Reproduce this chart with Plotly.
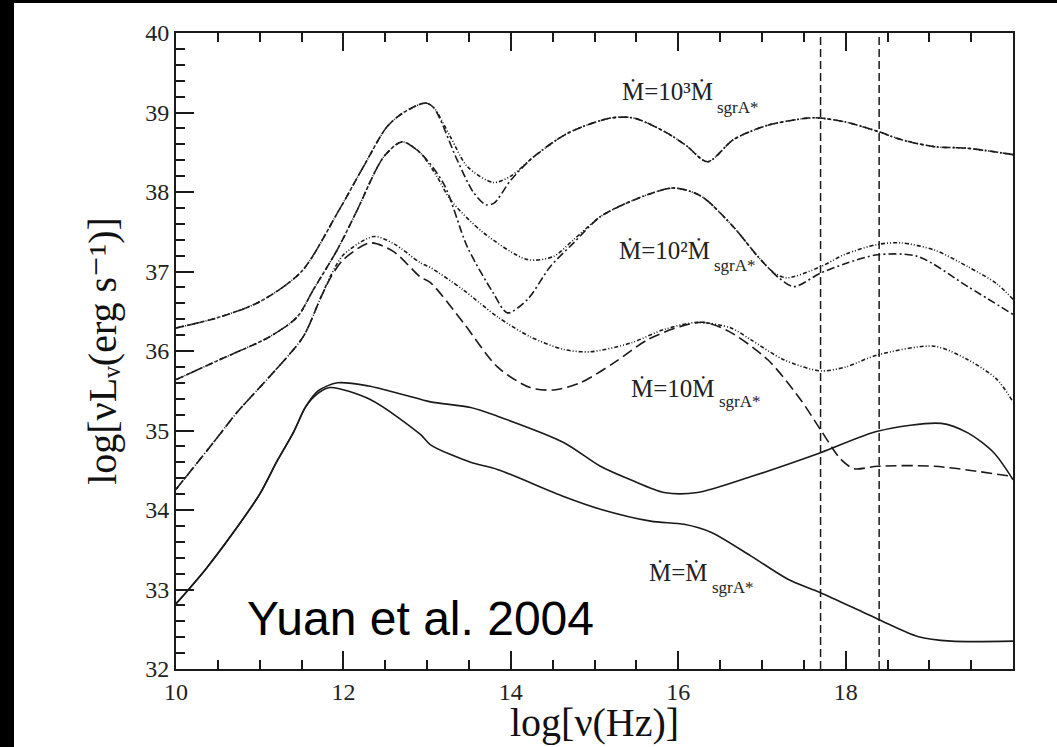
import plotly.graph_objects as go

# ---- data ----
# Mdot = 10^3 Mdot_sgrA*, dotted branch
x_1e3_a = [10.0, 10.5, 11.0, 11.5, 11.93, 12.24, 12.52, 12.72, 12.98, 13.08, 13.28, 13.48, 13.79, 14.0, 14.27, 14.68, 15.19, 15.47, 15.87, 16.1, 16.35, 16.66, 17.07, 17.55, 17.7, 18.0, 18.39, 18.66, 19.06, 19.46, 20.0]
y_1e3_a = [36.29, 36.42, 36.62, 37.0, 37.74, 38.32, 38.82, 39.0, 39.12, 39.06, 38.69, 38.32, 38.12, 38.2, 38.44, 38.74, 38.93, 38.93, 38.74, 38.58, 38.38, 38.66, 38.84, 38.93, 38.93, 38.88, 38.76, 38.66, 38.57, 38.55, 38.47]
# Mdot = 10^3 Mdot_sgrA*, dash-dot branch
x_1e3_b = [10.0, 10.5, 11.0, 11.5, 11.93, 12.24, 12.52, 12.72, 12.98, 13.08, 13.36, 13.55, 13.7, 13.8, 14.0, 14.27, 14.68, 15.19, 15.47, 15.87, 16.1, 16.35, 16.66, 17.07, 17.55, 17.7, 18.0, 18.39, 18.66, 19.06, 19.46, 20.0]
y_1e3_b = [36.29, 36.42, 36.62, 37.0, 37.74, 38.32, 38.82, 39.0, 39.12, 39.06, 38.4, 38.0, 37.84, 37.86, 38.15, 38.44, 38.74, 38.93, 38.93, 38.74, 38.58, 38.38, 38.66, 38.84, 38.93, 38.93, 38.88, 38.76, 38.66, 38.57, 38.55, 38.47]
# Mdot = 10^2 Mdot_sgrA*, dotted branch
x_1e2_a = [10.0, 10.5, 11.12, 11.45, 11.64, 11.93, 12.15, 12.48, 12.7, 12.92, 13.12, 13.28, 13.67, 14.2, 14.51, 14.75, 15.07, 15.47, 15.94, 16.27, 16.66, 16.95, 17.15, 17.3, 17.7, 18.0, 18.38, 18.66, 19.06, 19.46, 19.8, 20.0]
y_1e2_a = [35.64, 35.88, 36.18, 36.43, 36.77, 37.28, 37.74, 38.44, 38.63, 38.49, 38.19, 37.9, 37.49, 37.15, 37.19, 37.4, 37.69, 37.9, 38.05, 37.95, 37.56, 37.19, 36.98, 36.92, 37.06, 37.22, 37.34, 37.36, 37.27, 37.06, 36.85, 36.65]
# Mdot = 10^2 Mdot_sgrA*, dash-dot branch
x_1e2_b = [10.0, 10.5, 11.12, 11.45, 11.64, 11.93, 12.15, 12.48, 12.7, 12.92, 13.2, 13.48, 13.79, 13.96, 14.2, 14.47, 14.75, 15.07, 15.47, 15.94, 16.27, 16.66, 16.95, 17.19, 17.38, 17.7, 18.0, 18.38, 18.86, 19.46, 20.0]
y_1e2_b = [35.64, 35.88, 36.18, 36.43, 36.77, 37.28, 37.74, 38.44, 38.63, 38.49, 38.1, 37.31, 36.73, 36.48, 36.65, 37.06, 37.36, 37.69, 37.9, 38.05, 37.95, 37.56, 37.19, 36.93, 36.81, 36.98, 37.1, 37.21, 37.19, 36.81, 36.46]
# Mdot = 10 Mdot_sgrA*, dotted branch
x_1e1_a = [10.0, 10.5, 10.73, 11.12, 11.52, 11.72, 11.85, 12.0, 12.36, 12.6, 12.92, 13.04, 13.43, 13.84, 14.23, 14.63, 14.95, 15.43, 15.83, 16.23, 16.63, 16.87, 17.26, 17.7, 18.0, 18.38, 19.06, 19.46, 19.8, 20.0]
y_1e1_a = [34.26, 34.92, 35.23, 35.68, 36.18, 36.65, 36.95, 37.21, 37.44, 37.35, 37.11, 37.05, 36.77, 36.43, 36.18, 36.02, 35.99, 36.1, 36.27, 36.36, 36.29, 36.14, 35.89, 35.75, 35.8, 35.95, 36.06, 35.89, 35.65, 35.36]
# Mdot = 10 Mdot_sgrA*, dashed branch
x_1e1_b = [10.0, 10.5, 10.73, 11.12, 11.52, 11.72, 11.85, 12.0, 12.32, 12.6, 12.92, 13.04, 13.43, 13.84, 14.23, 14.51, 14.83, 15.23, 15.63, 16.03, 16.3, 16.6, 17.07, 17.46, 17.7, 17.94, 18.1, 18.38, 19.06, 20.0]
y_1e1_b = [34.26, 34.92, 35.23, 35.68, 36.18, 36.65, 36.93, 37.15, 37.36, 37.25, 36.93, 36.86, 36.36, 35.8, 35.54, 35.51, 35.6, 35.85, 36.14, 36.31, 36.36, 36.25, 35.89, 35.39, 35.01, 34.64, 34.52, 34.55, 34.55, 34.42]
# Mdot = Mdot_sgrA*, upper solid
x_1e0_a = [10.0, 10.35, 10.68, 11.0, 11.21, 11.4, 11.55, 11.7, 11.93, 12.3, 12.72, 13.04, 13.52, 13.84, 14.63, 15.07, 15.43, 15.83, 16.23, 16.87, 17.7, 18.38, 19.14, 19.46, 19.77, 20.0]
y_1e0_a = [32.82, 33.25, 33.71, 34.2, 34.62, 34.97, 35.3, 35.5, 35.6, 35.56, 35.45, 35.36, 35.29, 35.18, 34.85, 34.55, 34.38, 34.22, 34.22, 34.42, 34.72, 34.99, 35.09, 34.97, 34.72, 34.38]
# Mdot = Mdot_sgrA*, lower solid
x_1e0_b = [10.0, 10.35, 10.68, 11.0, 11.21, 11.4, 11.55, 11.7, 11.84, 12.32, 12.92, 13.04, 13.52, 13.84, 14.63, 15.07, 15.67, 16.07, 16.39, 16.87, 17.31, 17.7, 18.38, 18.86, 19.26, 20.0]
y_1e0_b = [32.82, 33.25, 33.71, 34.2, 34.62, 34.97, 35.3, 35.47, 35.54, 35.39, 34.95, 34.82, 34.6, 34.51, 34.17, 34.01, 33.86, 33.82, 33.72, 33.42, 33.13, 32.96, 32.63, 32.41, 32.35, 32.35]

vlines_x = [17.7, 18.4]

# curve labels: main part (right-aligned at the join) and subscript part (left-aligned at the join)
labels_main = ["Ṁ=10³Ṁ", "Ṁ=10²Ṁ", "Ṁ=10Ṁ", "Ṁ=Ṁ"]
labels_sub = ["sgrA*", "sgrA*", "sgrA*", "sgrA*"]
labels_join_x = [16.44, 16.40, 16.46, 16.38]
labels_main_y = [39.27, 37.27, 35.53, 33.21]
labels_sub_y = [39.06, 37.07, 35.36, 33.03]

X_RANGE = [10, 19.999]
Y_RANGE = [32, 40]

# ---- styles ----
INK = "#1a1a1a"
DOTTED = "4px,2px,1px,2px,1px,2px"
DASHDOT = "8px,3px,2px,3px"
DASHED = "11px,5px"
SERIF = "Liberation Serif, Times New Roman, DejaVu Serif, serif"

series = [
    (x_1e3_a, y_1e3_a, DOTTED), (x_1e3_b, y_1e3_b, DASHDOT),
    (x_1e2_a, y_1e2_a, DOTTED), (x_1e2_b, y_1e2_b, DASHDOT),
    (x_1e1_a, y_1e1_a, DOTTED), (x_1e1_b, y_1e1_b, DASHED),
    (x_1e0_a, y_1e0_a, "solid"), (x_1e0_b, y_1e0_b, "solid"),
]

fig = go.Figure()
for xs, ys, dash in series:
    fig.add_trace(go.Scatter(x=xs, y=ys, mode="lines",
                             line=dict(color=INK, width=1.6, dash=dash, shape="spline", smoothing=0.8),
                             showlegend=False))

for xv in vlines_x:
    fig.add_trace(go.Scatter(x=[xv, xv], y=Y_RANGE, mode="lines",
                             line=dict(color=INK, width=1.5, dash="8px,4px"),
                             showlegend=False))

# empty trace that registers an overlaid, trace-free subplot used only to carry the tick marks
fig.add_trace(go.Scatter(x=[], y=[], xaxis="x2", yaxis="y2", showlegend=False))

# figure sits at (14, 3) inside a black page, so the black frame strips show on the left and top
OFF_X, OFF_Y = 14, 3
W, H = 1057 - OFF_X, 747 - OFF_Y
L, R, T, B = 176 - OFF_X, 44, 33 - OFF_Y, 78
ph = H - T - B


def to_paper_x(v):
    return (v - X_RANGE[0]) / (X_RANGE[1] - X_RANGE[0])


def to_paper_y(v):
    return (v - Y_RANGE[0]) / (Y_RANGE[1] - Y_RANGE[0])


annotations = []
for tm, ts, xj, ym, ys in zip(labels_main, labels_sub, labels_join_x, labels_main_y, labels_sub_y):
    annotations.append(dict(x=to_paper_x(xj), y=to_paper_y(ym), xref="paper", yref="paper", text=tm,
                            showarrow=False, xanchor="right", yanchor="middle",
                            font=dict(family=SERIF, size=25, color="#222")))
    annotations.append(dict(x=to_paper_x(xj), y=to_paper_y(ys), xref="paper", yref="paper", text=ts,
                            showarrow=False, xanchor="left", yanchor="middle",
                            font=dict(family=SERIF, size=17, color="#222")))
annotations.append(dict(x=to_paper_x(10.82), y=to_paper_y(32.64), xref="paper", yref="paper",
                        text="Yuan et al. 2004", showarrow=False, xanchor="left", yanchor="middle",
                        font=dict(family="Liberation Sans, Arial, sans-serif", size=48, color="black")))
annotations.append(dict(x=0.5, y=(669 - 722) / ph, xref="paper", yref="paper", text="log[ν(Hz)]",
                        showarrow=False, xanchor="center", yanchor="middle",
                        font=dict(family=SERIF, size=40, color="#111")))

tick_common = dict(showgrid=False, zeroline=False, showline=True, linecolor=INK, linewidth=2,
                   ticks="inside", ticklen=18, tickwidth=2, tickcolor=INK)
label_font = dict(family=SERIF, size=24, color="#222")
x_minor = dict(ticks="inside", dtick=0.5, ticklen=9, tickwidth=1.5, tickcolor=INK)
y_minor = dict(ticks="inside", dtick=0.2, ticklen=9, tickwidth=1.5, tickcolor=INK)

fig.update_layout(
    width=W, height=H, margin=dict(l=L, r=R, t=T, b=B),
    paper_bgcolor="white", plot_bgcolor="white",
    xaxis=dict(range=X_RANGE, tick0=10, dtick=2, mirror="ticks", minor=x_minor,
               tickfont=label_font, **tick_common),
    yaxis=dict(range=Y_RANGE, tick0=32, dtick=1, mirror=True, minor=y_minor,
               tickfont=label_font,
               title=dict(text="log[νLᵥ(erg s⁻¹)]", standoff=16,
                          font=dict(family=SERIF, size=40, color="#111")),
               **tick_common),
    xaxis2=dict(range=X_RANGE, tick0=10, dtick=2, mirror="ticks", minor=x_minor,
                overlaying="x", anchor="y2", side="bottom", showticklabels=False, **tick_common),
    yaxis2=dict(range=Y_RANGE, tick0=32, dtick=1, mirror=True, minor=y_minor,
                overlaying="y", anchor="x2", side="left", showticklabels=False, **tick_common),
    annotations=annotations,
)

page_js = ("document.body.style.margin='0';document.body.style.overflow='hidden';"
           "document.body.style.background='black';"
           "var g=document.getElementById('{plot_id}');g.style.position='absolute';"
           "g.style.left='14px';g.style.top='3px';")
fig.write_html("out.html", config={"displayModeBar": False}, post_script=page_js)
